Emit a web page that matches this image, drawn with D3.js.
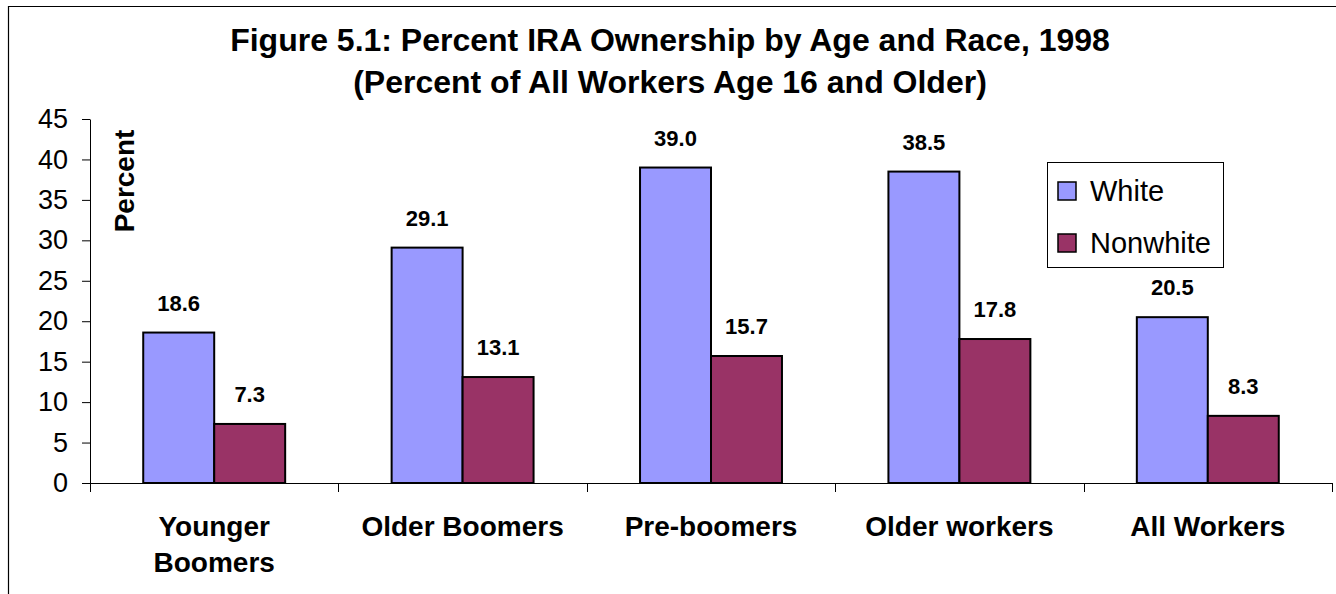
<!DOCTYPE html>
<html>
<head>
<meta charset="utf-8">
<script src="https://cdn.jsdelivr.net/npm/d3@7"></script>
<style>
  html, body { margin: 0; padding: 0; background: #fff; }
  svg { display: block; font-family: "Liberation Sans", Arial, sans-serif; }
</style>
</head>
<body>
<svg id="chart" width="1336" height="594"></svg>
<script>
const titleLines = ["Figure 5.1: Percent IRA Ownership by Age and Race, 1998", "(Percent of All Workers Age 16 and Older)"];
const categories = ["Younger Boomers", "Older Boomers", "Pre-boomers", "Older workers", "All Workers"];
const categoryLabels = [["Younger", "Boomers"], ["Older Boomers"], ["Pre-boomers"], ["Older workers"], ["All Workers"]];
const seriesNames = ["White", "Nonwhite"];
const whiteValues = [18.6, 29.1, 39.0, 38.5, 20.5];
const nonwhiteValues = [7.3, 13.1, 15.7, 17.8, 8.3];
const yTicks = [0, 5, 10, 15, 20, 25, 30, 35, 40, 45];
const yLabel = "Percent";
const colors = ["#9999FF", "#993366"];

(function () {
const seriesValues = [whiteValues, nonwhiteValues];
const svg = d3.select("#chart");

// outer frame (left + top edges visible)
svg.append("path").attr("d", "M8.5,594 L8.5,6.5 L1336,6.5")
  .attr("fill", "none").attr("stroke", "#000").attr("stroke-width", 1.2);

const pLeft = 90, pRight = 1332, pTop = 119, pBottom = 483;
const y = d3.scaleLinear().domain([0, 45]).range([pBottom, pTop]);
const gap = 1.5 / 3.5;
const x0 = d3.scaleBand().domain(categories).range([pLeft, pRight]).paddingInner(gap).paddingOuter(gap / 2);
const x1 = d3.scaleBand().domain(seriesNames).range([0, x0.bandwidth()]);

// title
svg.append("g").selectAll("text").data(titleLines).join("text")
  .attr("x", 670).attr("y", (d, i) => 51 + i * 42)
  .attr("text-anchor", "middle").attr("font-weight", "bold").attr("font-size", 32)
  .text(d => d);

// y axis
const yAxis = d3.axisLeft(y).tickValues(yTicks).tickSize(8).tickPadding(14).tickSizeOuter(0);
const gy = svg.append("g").attr("transform", `translate(${pLeft},0)`).call(yAxis);
gy.select(".domain").attr("stroke", "#000");
gy.selectAll(".tick line").attr("stroke", "#000");
gy.selectAll(".tick text").attr("font-size", 27).attr("fill", "#000")
  .attr("font-family", "Liberation Sans, Arial, sans-serif");

// y label
svg.append("text").attr("transform", "translate(134,181) rotate(-90)")
  .attr("text-anchor", "middle").attr("font-weight", "bold").attr("font-size", 28)
  .text(yLabel);

// bars
const groups = svg.append("g").selectAll("g").data(categories).join("g")
  .attr("transform", d => `translate(${x0(d)},0)`);
groups.selectAll("rect").data((d, i) => seriesNames.map((s, j) => ({ s, v: seriesValues[j][i], j })))
  .join("rect")
  .attr("x", d => x1(d.s)).attr("width", x1.bandwidth())
  .attr("y", d => y(d.v)).attr("height", d => y(0) - y(d.v))
  .attr("fill", d => colors[d.j]).attr("stroke", "#000").attr("stroke-width", 2);
groups.selectAll("text.val").data((d, i) => seriesNames.map((s, j) => ({ s, v: seriesValues[j][i] })))
  .join("text").attr("class", "val")
  .attr("x", d => x1(d.s) + x1.bandwidth() / 2).attr("y", d => y(d.v) - 22)
  .attr("text-anchor", "middle").attr("font-weight", "bold").attr("font-size", 22)
  .text(d => d.v.toFixed(1));

// x axis
const step = x0.step();
const boundaries = d3.range(categories.length + 1).map(i => pLeft + i * step);
const gx = svg.append("g");
gx.append("line").attr("x1", pLeft).attr("x2", pRight).attr("y1", pBottom + 0.5).attr("y2", pBottom + 0.5).attr("stroke", "#000");
gx.selectAll("line.tk").data(boundaries).join("line").attr("class", "tk")
  .attr("x1", d => Math.round(d) + 0.5).attr("x2", d => Math.round(d) + 0.5)
  .attr("y1", pBottom).attr("y2", pBottom + 9).attr("stroke", "#000");
const labels = gx.selectAll("text.cat").data(categories).join("text").attr("class", "cat")
  .attr("x", d => x0(d) + x0.bandwidth() / 2).attr("y", 536)
  .attr("text-anchor", "middle").attr("font-weight", "bold").attr("font-size", 28);
labels.each(function (d, i) {
  const t = d3.select(this);
  categoryLabels[i].forEach((line, k) => {
    t.append("tspan").attr("x", x0(d) + x0.bandwidth() / 2).attr("dy", k === 0 ? 0 : 36).text(line);
  });
});

// legend
const lg = svg.append("g");
lg.append("rect").attr("x", 1047.5).attr("y", 162.5).attr("width", 176).attr("height", 105)
  .attr("fill", "#fff").attr("stroke", "#000").attr("stroke-width", 1);
const items = lg.selectAll("g").data(seriesNames).join("g")
  .attr("transform", (d, i) => `translate(0,${i * 52})`);
items.append("rect").attr("x", 1058).attr("y", 182).attr("width", 18).attr("height", 18)
  .attr("fill", (d, i) => colors[i]).attr("stroke", "#000").attr("stroke-width", 1.5);
items.append("text").attr("x", 1090).attr("y", 201).attr("font-size", 29).text(d => d);
})();
</script>
</body>
</html>
